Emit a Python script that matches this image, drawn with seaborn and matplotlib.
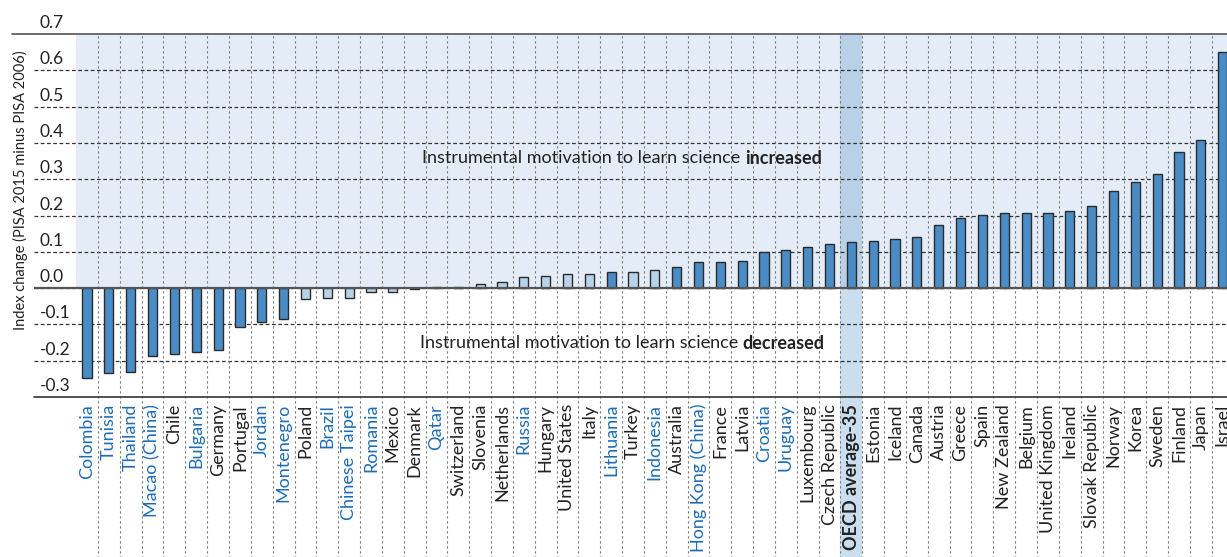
import numpy as np
import pandas as pd
import matplotlib
matplotlib.use('Agg')
import matplotlib.pyplot as plt
import matplotlib.transforms as mtransforms
import seaborn as sns

# Countries sorted by change in instrumental motivation (PISA 2015 minus PISA 2006)
countries = ['Colombia', 'Tunisia', 'Thailand', 'Macao (China)', 'Chile', 'Bulgaria', 'Germany',
             'Portugal', 'Jordan', 'Montenegro', 'Poland', 'Brazil', 'Chinese Taipei', 'Romania',
             'Mexico', 'Denmark', 'Qatar', 'Switzerland', 'Slovenia', 'Netherlands', 'Russia',
             'Hungary', 'United States', 'Italy', 'Lithuania', 'Turkey', 'Indonesia', 'Australia',
             'Hong Kong (China)', 'France', 'Latvia', 'Croatia', 'Uruguay', 'Luxembourg',
             'Czech Republic', 'OECD average-35', 'Estonia', 'Iceland', 'Canada', 'Austria',
             'Greece', 'Spain', 'New Zealand', 'Belgium', 'United Kingdom', 'Ireland',
             'Slovak Republic', 'Norway', 'Korea', 'Sweden', 'Finland', 'Japan', 'Israel']

change = [-0.247, -0.235, -0.232, -0.186, -0.182, -0.176, -0.171,
          -0.108, -0.093, -0.084, -0.030, -0.028, -0.026, -0.012,
          -0.010, -0.003, 0.002, 0.003, 0.010, 0.016, 0.031,
          0.033, 0.038, 0.039, 0.044, 0.044, 0.049, 0.058,
          0.073, 0.073, 0.076, 0.099, 0.104, 0.114,
          0.122, 0.128, 0.131, 0.136, 0.141, 0.174,
          0.192, 0.202, 0.206, 0.206, 0.208, 0.213,
          0.227, 0.267, 0.291, 0.313, 0.375, 0.407, 0.651]

# Change not statistically significant -> lighter bar
not_significant = ['Poland', 'Brazil', 'Chinese Taipei', 'Romania', 'Mexico', 'Qatar',
                   'Switzerland', 'Slovenia', 'Netherlands', 'Russia', 'Hungary',
                   'United States', 'Italy', 'Turkey', 'Indonesia']

# Partner countries/economies (blue labels)
partners = ['Colombia', 'Tunisia', 'Thailand', 'Macao (China)', 'Bulgaria', 'Jordan',
            'Montenegro', 'Brazil', 'Chinese Taipei', 'Romania', 'Qatar', 'Russia',
            'Lithuania', 'Indonesia', 'Hong Kong (China)', 'Croatia', 'Uruguay']

yticks = [-0.3, -0.2, -0.1, 0.0, 0.1, 0.2, 0.3, 0.4, 0.5, 0.6, 0.7]

df = pd.DataFrame({'country': countries, 'change': change})
df['sig'] = np.where(df['country'].isin(not_significant), 'ns', 'sig')

dark_bar = '#4a8dc6'
light_bar = '#b6d3ea'
partner_blue = '#1f6db5'
bg_blue = '#e4edf7'
text_col = '#222222'

sns.set_style('white')
plt.rcParams['font.family'] = ['Lato', 'DejaVu Sans']

fig = plt.figure(figsize=(12.27, 5.57), dpi=100)
ax = fig.add_axes([34 / 1227, 1 - 397 / 557, 1 - 34 / 1227, (397 - 34) / 557])

n = len(countries)
oecd_idx = countries.index('OECD average-35')
x0, x1 = -2.43, 52.2

# light blue background for the positive region (starts at first category edge)
ax.axhspan(0, 0.7, xmin=(-0.5 - x0) / (x1 - x0), xmax=1, color=bg_blue, zorder=0, lw=0)

sns.barplot(data=df, x='country', y='change', hue='sig',
            palette={'sig': dark_bar, 'ns': light_bar}, dodge=False, saturation=1,
            width=0.42, edgecolor='#2b2b2b', linewidth=1.0, legend=False,
            ax=ax, zorder=3)

ax.set_xlim(x0, x1)
ax.set_ylim(-0.3, 0.7)

# OECD average highlight column (extends through labels)
ax.axvspan(oecd_idx - 0.5, oecd_idx + 0.5, ymin=0.3, ymax=1.0, color='#b9d1e7',
           zorder=1, lw=0)
ax.axvspan(oecd_idx - 0.5, oecd_idx + 0.5, ymin=-0.45, ymax=0.3, color='#cadef0',
           zorder=1, lw=0, clip_on=False)

# horizontal dashed gridlines
for v in yticks[1:-1]:
    ax.axhline(v, color='#333333', lw=0.9, ls=(0, (3, 2)), zorder=2)
ax.axhline(0.0, color='#555555', lw=1.6, zorder=4)
ax.axhline(-0.3, color='#333333', lw=1.2, zorder=4, clip_on=False)
ax.plot([-3.43, x1], [0.7, 0.7], color='#555555', lw=1.2, zorder=4, clip_on=False)

# vertical dashed separators between categories, through the label area
for k in range(n - 1):
    ax.axvline(k + 0.5, ymin=-0.45, ymax=1.0, color='#777777', lw=0.8,
               ls=(0, (2, 2.5)), zorder=2, clip_on=False)

# y tick labels above the gridlines
trans = mtransforms.blended_transform_factory(ax.transAxes, ax.transData)
for v in yticks:
    ax.text(6 / 1193, v + 0.008, f'{v:.1f}', transform=trans, ha='left', va='bottom',
            fontsize=12.5, color=text_col)
ax.set_yticks([])
ax.set_ylabel('')
fig.text(20 / 1227, 1 - 190 / 557, 'Index change (PISA 2015 minus PISA 2006)',
         rotation=90, ha='center', va='center', fontsize=10.5, color=text_col)

# x tick labels
ax.set_xticks(range(n))
ax.set_xticklabels(countries, rotation=90, fontsize=13, va='top', ha='center')
ax.tick_params(axis='x', length=0, pad=5)
ax.set_xlabel('')
ax.xaxis.set_zorder(5)
for lab in ax.get_xticklabels():
    name = lab.get_text()
    if name in partners:
        lab.set_color(partner_blue)
    else:
        lab.set_color(text_col)
    if name == 'OECD average-35':
        lab.set_fontweight('bold')

# annotations: regular text + bold word, centred together
fig.canvas.draw()
renderer = fig.canvas.get_renderer()
for yv, word in [(0.358, 'increased'), (-0.152, 'decreased')]:
    t1 = ax.text(0, yv, 'Instrumental motivation to learn science ', ha='left', va='center',
                 fontsize=13, color=text_col, zorder=5)
    t2 = ax.text(0, yv, word, ha='left', va='center', fontsize=13, fontweight='bold',
                 color=text_col, zorder=5)
    w1 = t1.get_window_extent(renderer).width
    w2 = t2.get_window_extent(renderer).width
    cx = ax.transData.transform((24.5, yv))[0]
    start = cx - (w1 + w2) / 2
    inv = ax.transData.inverted()
    t1.set_x(inv.transform((start, 0))[0])
    t2.set_x(inv.transform((start + w1, 0))[0])

for s in ax.spines.values():
    s.set_visible(False)

fig.savefig('out.png', dpi=100)
